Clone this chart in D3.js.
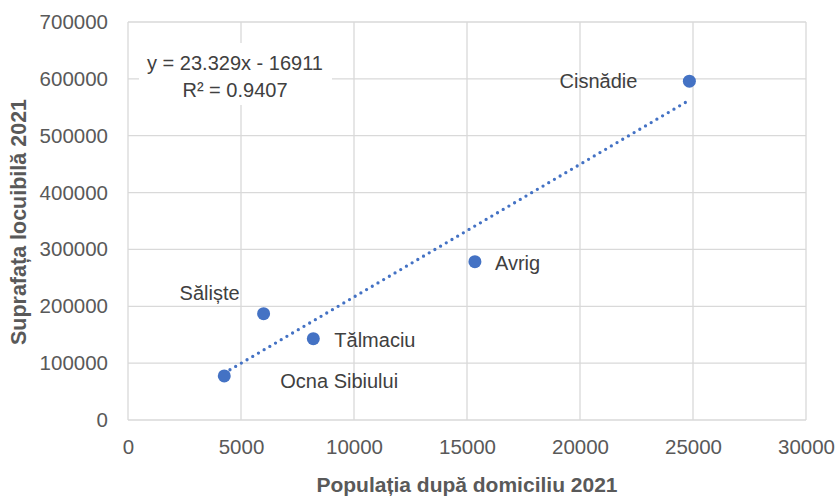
<!DOCTYPE html>
<html><head><meta charset="utf-8">
<script src="https://cdn.jsdelivr.net/npm/d3@7"></script>
<style>body{margin:0;background:#fff}svg text{font-family:"Liberation Sans",Arial,sans-serif;fill:#595959}</style>
</head><body><svg id="c" width="838" height="497"></svg>
<script>
const towns = ["Ocna Sibiului","Săliște","Tălmaciu","Avrig","Cisnădie"];
const population = [4260, 6000, 8200, 15350, 24840];
const area = [77500, 187000, 143000, 278500, 596000];
const xTicks = [0,5000,10000,15000,20000,25000,30000];
const yTicks = [0,100000,200000,300000,400000,500000,600000,700000];
const slope = 23.329, intercept = -16911;
const eqLines = ["y = 23.329x - 16911","R² = 0.9407"];
const xTitle = "Populația după domiciliu 2021";
const yTitle = "Suprafața locuibilă 2021";

const svg = d3.select("#c");
const x = d3.scaleLinear().domain([0,30000]).range([128,806]);
const y = d3.scaleLinear().domain([0,700000]).range([420,22]);
const blue = "#4472C4";

// gridlines
svg.append("g").selectAll("line").data(yTicks).join("line")
  .attr("x1",x(0)).attr("x2",x(30000)).attr("y1",d=>y(d)).attr("y2",d=>y(d))
  .attr("stroke","#d9d9d9").attr("stroke-width",1.3);
svg.append("g").selectAll("line").data(xTicks).join("line")
  .attr("y1",y(0)).attr("y2",y(700000)).attr("x1",d=>x(d)).attr("x2",d=>x(d))
  .attr("stroke","#d9d9d9").attr("stroke-width",1.3);

// axes
const xAxis = svg.append("g").attr("transform",`translate(0,${y(0)})`)
  .call(d3.axisBottom(x).tickValues(xTicks).tickSize(0).tickPadding(19).tickFormat(d3.format("d")));
const yAxis = svg.append("g").attr("transform",`translate(${x(0)},0)`)
  .call(d3.axisLeft(y).tickValues(yTicks).tickSize(0).tickPadding(20).tickFormat(d3.format("d")));
[xAxis,yAxis].forEach(a=>{a.select(".domain").remove();
  a.selectAll("text").style("font-size","20.5px").attr("fill","#595959");});

// trendline
const xmin = d3.min(population), xmax = d3.max(population);
svg.append("line").attr("x1",x(xmin)).attr("y1",y(slope*xmin+intercept))
  .attr("x2",x(xmax)).attr("y2",y(slope*xmax+intercept))
  .attr("stroke",blue).attr("stroke-width",3.3).attr("stroke-linecap","round")
  .attr("stroke-dasharray","0 6.6");

// points
svg.append("g").selectAll("circle").data(population).join("circle")
  .attr("cx",d=>x(d)).attr("cy",(d,i)=>y(area[i])).attr("r",6.5).attr("fill",blue);

// data labels (offsets relative to points)
const offs = [[56,5,"start"],[-54,-21,"middle"],[21,1,"start"],[20,1,"start"],[-52,0,"end"]];
svg.append("g").selectAll("text").data(towns).join("text")
  .attr("x",(d,i)=>x(population[i])+offs[i][0]).attr("y",(d,i)=>y(area[i])+offs[i][1])
  .attr("text-anchor",(d,i)=>offs[i][2]).attr("dominant-baseline","central")
  .style("font-size","20px").style("fill","#404040").text(d=>d);

// equation box
svg.append("rect").attr("x",139).attr("y",43).attr("width",193).attr("height",62).attr("fill","#fff");
svg.append("g").selectAll("text").data(eqLines).join("text")
  .attr("x",235).attr("y",(d,i)=>63+i*27).attr("text-anchor","middle").attr("dominant-baseline","central")
  .style("font-size","20px").style("fill","#404040").text(d=>d);

// titles
svg.append("text").attr("x",467).attr("y",484).attr("text-anchor","middle").attr("dominant-baseline","central")
  .style("font-size","21px").style("font-weight","bold").text(xTitle);
svg.append("text").attr("transform","translate(19,222) rotate(-90)").attr("text-anchor","middle")
  .attr("dominant-baseline","central").style("font-size","21.5px").style("font-weight","bold").text(yTitle);
</script></body></html>
